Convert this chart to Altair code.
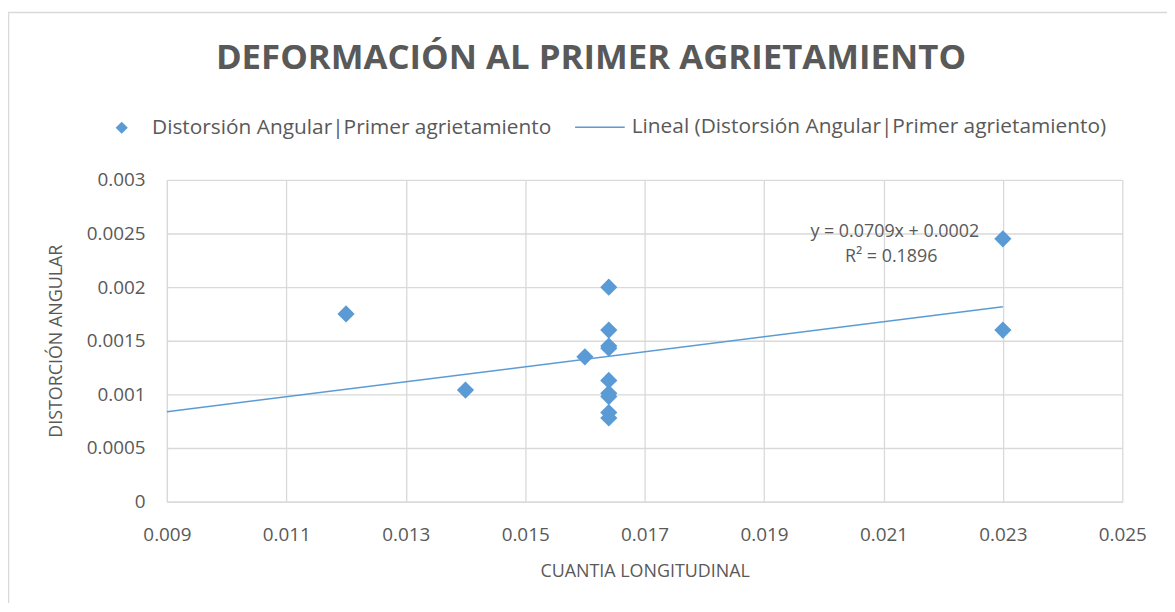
import altair as alt
import pandas as pd

title_text = "DEFORMACIÓN AL PRIMER AGRIETAMIENTO"
series_pts = "Distorsión Angular|Primer agrietamiento"
series_line = "Lineal (Distorsión Angular|Primer agrietamiento)"

cuantia = [0.012, 0.014, 0.016, 0.0164, 0.0164, 0.0164, 0.0164, 0.0164, 0.0164,
           0.0164, 0.0164, 0.0164, 0.023, 0.023]
distorsion = [0.00175, 0.00104, 0.00135, 0.0020, 0.0016, 0.00145, 0.00143, 0.00113,
              0.00101, 0.00098, 0.00083, 0.00078, 0.00245, 0.0016]
eq_lines = ["y = 0.0709x + 0.0002", "R² = 0.1896"]
x_ticks = [0.009, 0.011, 0.013, 0.015, 0.017, 0.019, 0.021, 0.023, 0.025]
y_ticks = [0, 0.0005, 0.001, 0.0015, 0.002, 0.0025, 0.003]

df = pd.DataFrame({"x": cuantia, "y": distorsion, "serie": series_pts})

BLUE = "#5B9BD5"
GREY = "#595959"
FONT = "Open Sans"

xscale = alt.Scale(domain=[0.009, 0.025], nice=False, zero=False)
yscale = alt.Scale(domain=[0, 0.003], nice=False)

xenc = alt.X("x:Q", scale=xscale,
             axis=alt.Axis(title="CUANTIA LONGITUDINAL", values=x_ticks, format="~g"))
yenc = alt.Y("y:Q", scale=yscale,
             axis=alt.Axis(title="DISTORCIÓN ANGULAR", values=y_ticks, format="~g"))

legend_common = dict(title=None, orient="none", direction="horizontal", padding=0,
                     labelFontSize=21, labelColor=GREY, labelFont=FONT, labelLimit=700)

one = pd.DataFrame({"t": [title_text]})

# chart frame (decoration)
frame = alt.Chart(one).mark_rect(
    fill=None, stroke="#D9D9D9", strokeWidth=1.5
).encode(x=alt.value(-159.5), x2=alt.value(1020), y=alt.value(-168.5), y2=alt.value(460))

title = alt.Chart(one).mark_text(
    fontSize=35, font=FONT, fontWeight="bold", color=GREY, align="center",
    baseline="alphabetic"
).encode(x=alt.value(427), y=alt.value(-112), text="t:N")

points = alt.Chart(df).mark_point(filled=True, size=300, opacity=1, color=BLUE).encode(
    x=xenc, y=yenc,
    shape=alt.Shape("serie:N", scale=alt.Scale(domain=[series_pts], range=["diamond"]),
                    legend=alt.Legend(legendX=-56, legendY=-63, symbolSize=150,
                                      symbolFillColor=BLUE, symbolStrokeWidth=0,
                                      labelOffset=20, **legend_common)),
)

trend = alt.Chart(df).transform_regression(
    "x", "y", extent=[0.009, 0.023]
).transform_calculate(linea=f"'{series_line}'").mark_line(
    strokeWidth=1.5
).encode(
    x=alt.X("x:Q", scale=xscale), y=alt.Y("y:Q", scale=yscale),
    color=alt.Color("linea:N", scale=alt.Scale(domain=[series_line], range=[BLUE]),
                    legend=alt.Legend(legendX=410, legendY=-79, symbolType="stroke",
                                      symbolSize=2500, symbolStrokeWidth=1.5,
                                      labelOffset=6, **legend_common)),
)

eq_df = pd.DataFrame({"t": eq_lines, "px": [0.02119, 0.02113], "py": [0.002509, 0.002278]})
eq = alt.Chart(eq_df).mark_text(fontSize=18, color=GREY, font=FONT).encode(
    x=alt.X("px:Q", scale=xscale), y=alt.Y("py:Q", scale=yscale), text="t:N"
)

chart = alt.layer(frame, title, trend, points, eq).properties(
    width=962, height=324,
    autosize=alt.AutoSizeParams(type="none"),
    padding={"left": 160, "top": 171, "right": 45, "bottom": 100},
).resolve_legend(shape="independent", color="independent").configure_view(
    stroke=None
).configure_axis(
    grid=True, gridColor="#D9D9D9", gridWidth=1.3, domainColor="#D9D9D9", domainWidth=1.3,
    ticks=False, labelFontSize=19, labelColor=GREY, labelFont=FONT, labelFlush=False,
    titleFontSize=18, titleColor=GREY, titleFont=FONT, titleFontWeight="normal",
).configure_axisX(titlePadding=18, labelPadding=24).configure_axisY(
    titlePadding=21, labelPadding=22)

chart.save("out.html", embed_options={"renderer": "svg", "actions": False})
